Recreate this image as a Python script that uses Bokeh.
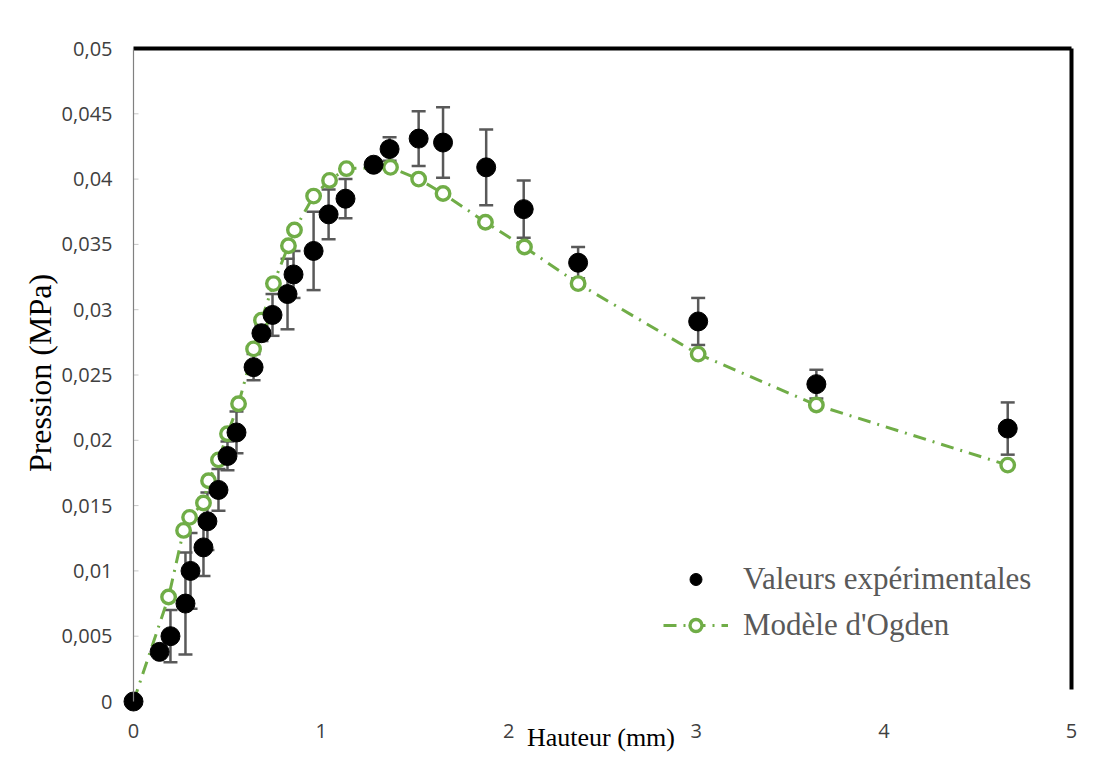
from bokeh.plotting import figure
from bokeh.models import (ColumnDataSource, Range1d, LinearAxis, FixedTicker, Whisker, TeeHead,
                          CustomJSTickFormatter, Legend, LegendItem)
from bokeh.embed import file_html
from bokeh.resources import INLINE

# ---------------- data ----------------
exp_x = [0, 0.139, 0.197, 0.277, 0.304, 0.373, 0.394, 0.453, 0.501, 0.549, 0.640, 0.682, 0.741,
         0.821, 0.853, 0.96, 1.04, 1.13, 1.28, 1.365, 1.52, 1.65, 1.88, 2.08, 2.37, 3.01, 3.64, 4.66]
exp_y = [0, 0.0038, 0.0050, 0.0075, 0.0100, 0.0118, 0.0138, 0.0162, 0.0188, 0.0206, 0.0256, 0.0282,
         0.0296, 0.0312, 0.0327, 0.0345, 0.0373, 0.0385, 0.0411, 0.0423, 0.0431, 0.0428, 0.0409,
         0.0377, 0.0336, 0.0291, 0.0243, 0.0209]
exp_err = [0, 0, 0.0020, 0.0039, 0.0029, 0.0022, 0.0022, 0.0016, 0.0011, 0.0016, 0.0010, 0.0006,
           0.0016, 0.0027, 0.0018, 0.0030, 0.0019, 0.0015, 0.0004, 0.0009, 0.0021, 0.0027, 0.0029,
           0.0022, 0.0012, 0.0018, 0.0011, 0.0020]

model_x = [0, 0.187, 0.267, 0.299, 0.373, 0.40, 0.453, 0.501, 0.56, 0.64, 0.682, 0.746, 0.826,
           0.858, 0.96, 1.045, 1.135, 1.37, 1.52, 1.65, 1.876, 2.084, 2.37, 3.01, 3.64, 4.66]
model_y = [0, 0.0080, 0.0131, 0.0141, 0.0152, 0.0169, 0.0185, 0.0205, 0.0228, 0.0270, 0.0292,
           0.0320, 0.0349, 0.0361, 0.0387, 0.0399, 0.0408, 0.0409, 0.0400, 0.0389, 0.0367, 0.0348,
           0.0320, 0.0266, 0.0227, 0.0181]

x_ticks = [0, 1, 2, 3, 4, 5]
x_tick_labels = ["0", "1", "2", "3", "4", "5"]
y_ticks = [0, 0.005, 0.01, 0.015, 0.02, 0.025, 0.03, 0.035, 0.04, 0.045, 0.05]
y_tick_labels = ["0", "0,005", "0,01", "0,015", "0,02", "0,025", "0,03", "0,035", "0,04", "0,045", "0,05"]

series_names = ["Valeurs expérimentales", "Modèle d'Ogden"]
x_title = "Hauteur (mm)"
y_title = "Pression (MPa)"

# ---------------- geometry (pixels) ----------------
W, H = 1099, 761
FL, FR, FT, FB = 116, 1085, 30, 715          # frame edges
AX0, AX5 = 133, 1071                          # x=0, x=5 pixels
AY0, AY5 = 701, 48                            # y=0, y=0.05 pixels
xs = (AX5 - AX0) / 5.0
ys = (AY0 - AY5) / 0.05

x_range = Range1d(-(AX0 - FL) / xs, 5 + (FR - AX5) / xs)
y_range = Range1d(-(FB - AY0) / ys, 0.05 + (AY5 - FT) / ys)

p = figure(width=W, height=H, x_range=x_range, y_range=y_range, output_backend="svg",
           toolbar_location=None, x_axis_location=None, y_axis_location=None,
           min_border_left=FL, min_border_right=W - FR, min_border_top=FT, min_border_bottom=H - FB)
p.outline_line_color = None
p.xgrid.visible = False
p.ygrid.visible = False
p.background_fill_color = "white"
p.border_fill_color = "white"

TICK_FONT = "Open Sans"
SERIF = "Liberation Serif"
LABEL_COLOR = "#404040"

JS = "const i = tvals.findIndex(t => Math.abs(t - tick) < 1e-9); return i >= 0 ? tlabs[i] : '';"

# y axis labels (left panel)
yfmt = CustomJSTickFormatter(args=dict(tvals=y_ticks, tlabs=y_tick_labels), code=JS)
yaxis = LinearAxis(ticker=FixedTicker(ticks=y_ticks), formatter=yfmt)
yaxis.axis_line_color = None
yaxis.major_tick_line_color = None
yaxis.minor_tick_line_color = None
yaxis.major_tick_in = 0
yaxis.major_tick_out = 0
yaxis.major_label_text_font = TICK_FONT
yaxis.major_label_text_font_size = "20px"
yaxis.major_label_text_color = LABEL_COLOR
yaxis.major_label_standoff = 4
yaxis.axis_label = y_title
yaxis.axis_label_text_font = SERIF
yaxis.axis_label_text_font_size = "32px"
yaxis.axis_label_text_font_style = "normal"
yaxis.axis_label_text_color = "#000000"
yaxis.axis_label_standoff = 1
p.add_layout(yaxis, "left")

# y axis line at x = 0 (no ticks, no labels)
yline = LinearAxis(ticker=FixedTicker(ticks=[]), fixed_location=0, bounds=(0, 0.05))
yline.axis_line_color = "#808080"
yline.axis_line_width = 1.2
yline.major_tick_line_color = None
yline.minor_tick_line_color = None
p.add_layout(yline, "left")

# small inside tick marks on the y axis line
p.ray(x=[0] * len(y_ticks), y=y_ticks, length=5, length_units="screen", angle=0,
      line_color="#c8c8c8", line_width=1)

# x axis (labels only)
xfmt = CustomJSTickFormatter(args=dict(tvals=x_ticks, tlabs=x_tick_labels), code=JS)
xaxis = LinearAxis(ticker=FixedTicker(ticks=x_ticks), formatter=xfmt)
xaxis.axis_line_color = None
xaxis.major_tick_line_color = None
xaxis.minor_tick_line_color = None
xaxis.major_tick_in = 0
xaxis.major_tick_out = 0
xaxis.major_label_text_font = TICK_FONT
xaxis.major_label_text_font_size = "20px"
xaxis.major_label_text_color = LABEL_COLOR
xaxis.major_label_standoff = 8
xaxis.axis_label = x_title
xaxis.axis_label_text_font = SERIF
xaxis.axis_label_text_font_size = "26px"
xaxis.axis_label_text_font_style = "normal"
xaxis.axis_label_text_color = "#000000"
xaxis.axis_label_standoff = -18
p.add_layout(xaxis, "below")

# thick black top and right borders
top = LinearAxis(ticker=FixedTicker(ticks=[]), fixed_location=0.05, bounds=(0, 5))
top.axis_line_color = "black"
top.axis_line_width = 4
top.major_tick_line_color = None
top.minor_tick_line_color = None
p.add_layout(top, "above")

right = LinearAxis(ticker=FixedTicker(ticks=[]), fixed_location=5, bounds=(0.0009, 0.05))
right.axis_line_color = "black"
right.axis_line_width = 4
right.major_tick_line_color = None
right.minor_tick_line_color = None
p.add_layout(right, "right")

# ---------------- data glyphs ----------------
GREEN = "#70AD47"
msrc = ColumnDataSource(dict(x=model_x, y=model_y))
mline = p.line("x", "y", source=msrc, line_color=GREEN, line_width=3, line_dash="13 7 2 7")
mpts = p.scatter("x", "y", source=msrc, marker="circle", size=13.5, line_color=GREEN, line_width=3.4,
                 fill_color="white")

eb_x = [x for x, e in zip(exp_x, exp_err) if e > 0]
eb_lo = [y - e for y, e in zip(exp_y, exp_err) if e > 0]
eb_hi = [y + e for y, e in zip(exp_y, exp_err) if e > 0]
esrc = ColumnDataSource(dict(x=eb_x, lower=eb_lo, upper=eb_hi))
whisk = Whisker(base="x", lower="lower", upper="upper", source=esrc, dimension="height",
                line_color="#595959", line_width=2.5,
                upper_head=TeeHead(size=14, line_color="#595959", line_width=2.5),
                lower_head=TeeHead(size=14, line_color="#595959", line_width=2.5))
p.add_layout(whisk)

xsrc = ColumnDataSource(dict(x=exp_x, y=exp_y))
epts = p.scatter("x", "y", source=xsrc, marker="circle", size=19, line_color="black",
                 fill_color="black")

legend = Legend(items=[LegendItem(label=series_names[0], renderers=[epts]),
                       LegendItem(label=series_names[1], renderers=[mline, mpts])],
                location=(547, 72))
legend.border_line_color = None
legend.background_fill_alpha = 0
legend.label_text_font = SERIF
legend.label_text_font_size = "31px"
legend.label_text_color = "#595959"
legend.glyph_width = 65
legend.glyph_height = 30
legend.label_height = 30
legend.label_standoff = 15
legend.spacing = 10
legend.padding = 0
legend.margin = 0
p.add_layout(legend, "center")

open("out.html", "w").write(file_html(p, INLINE))
